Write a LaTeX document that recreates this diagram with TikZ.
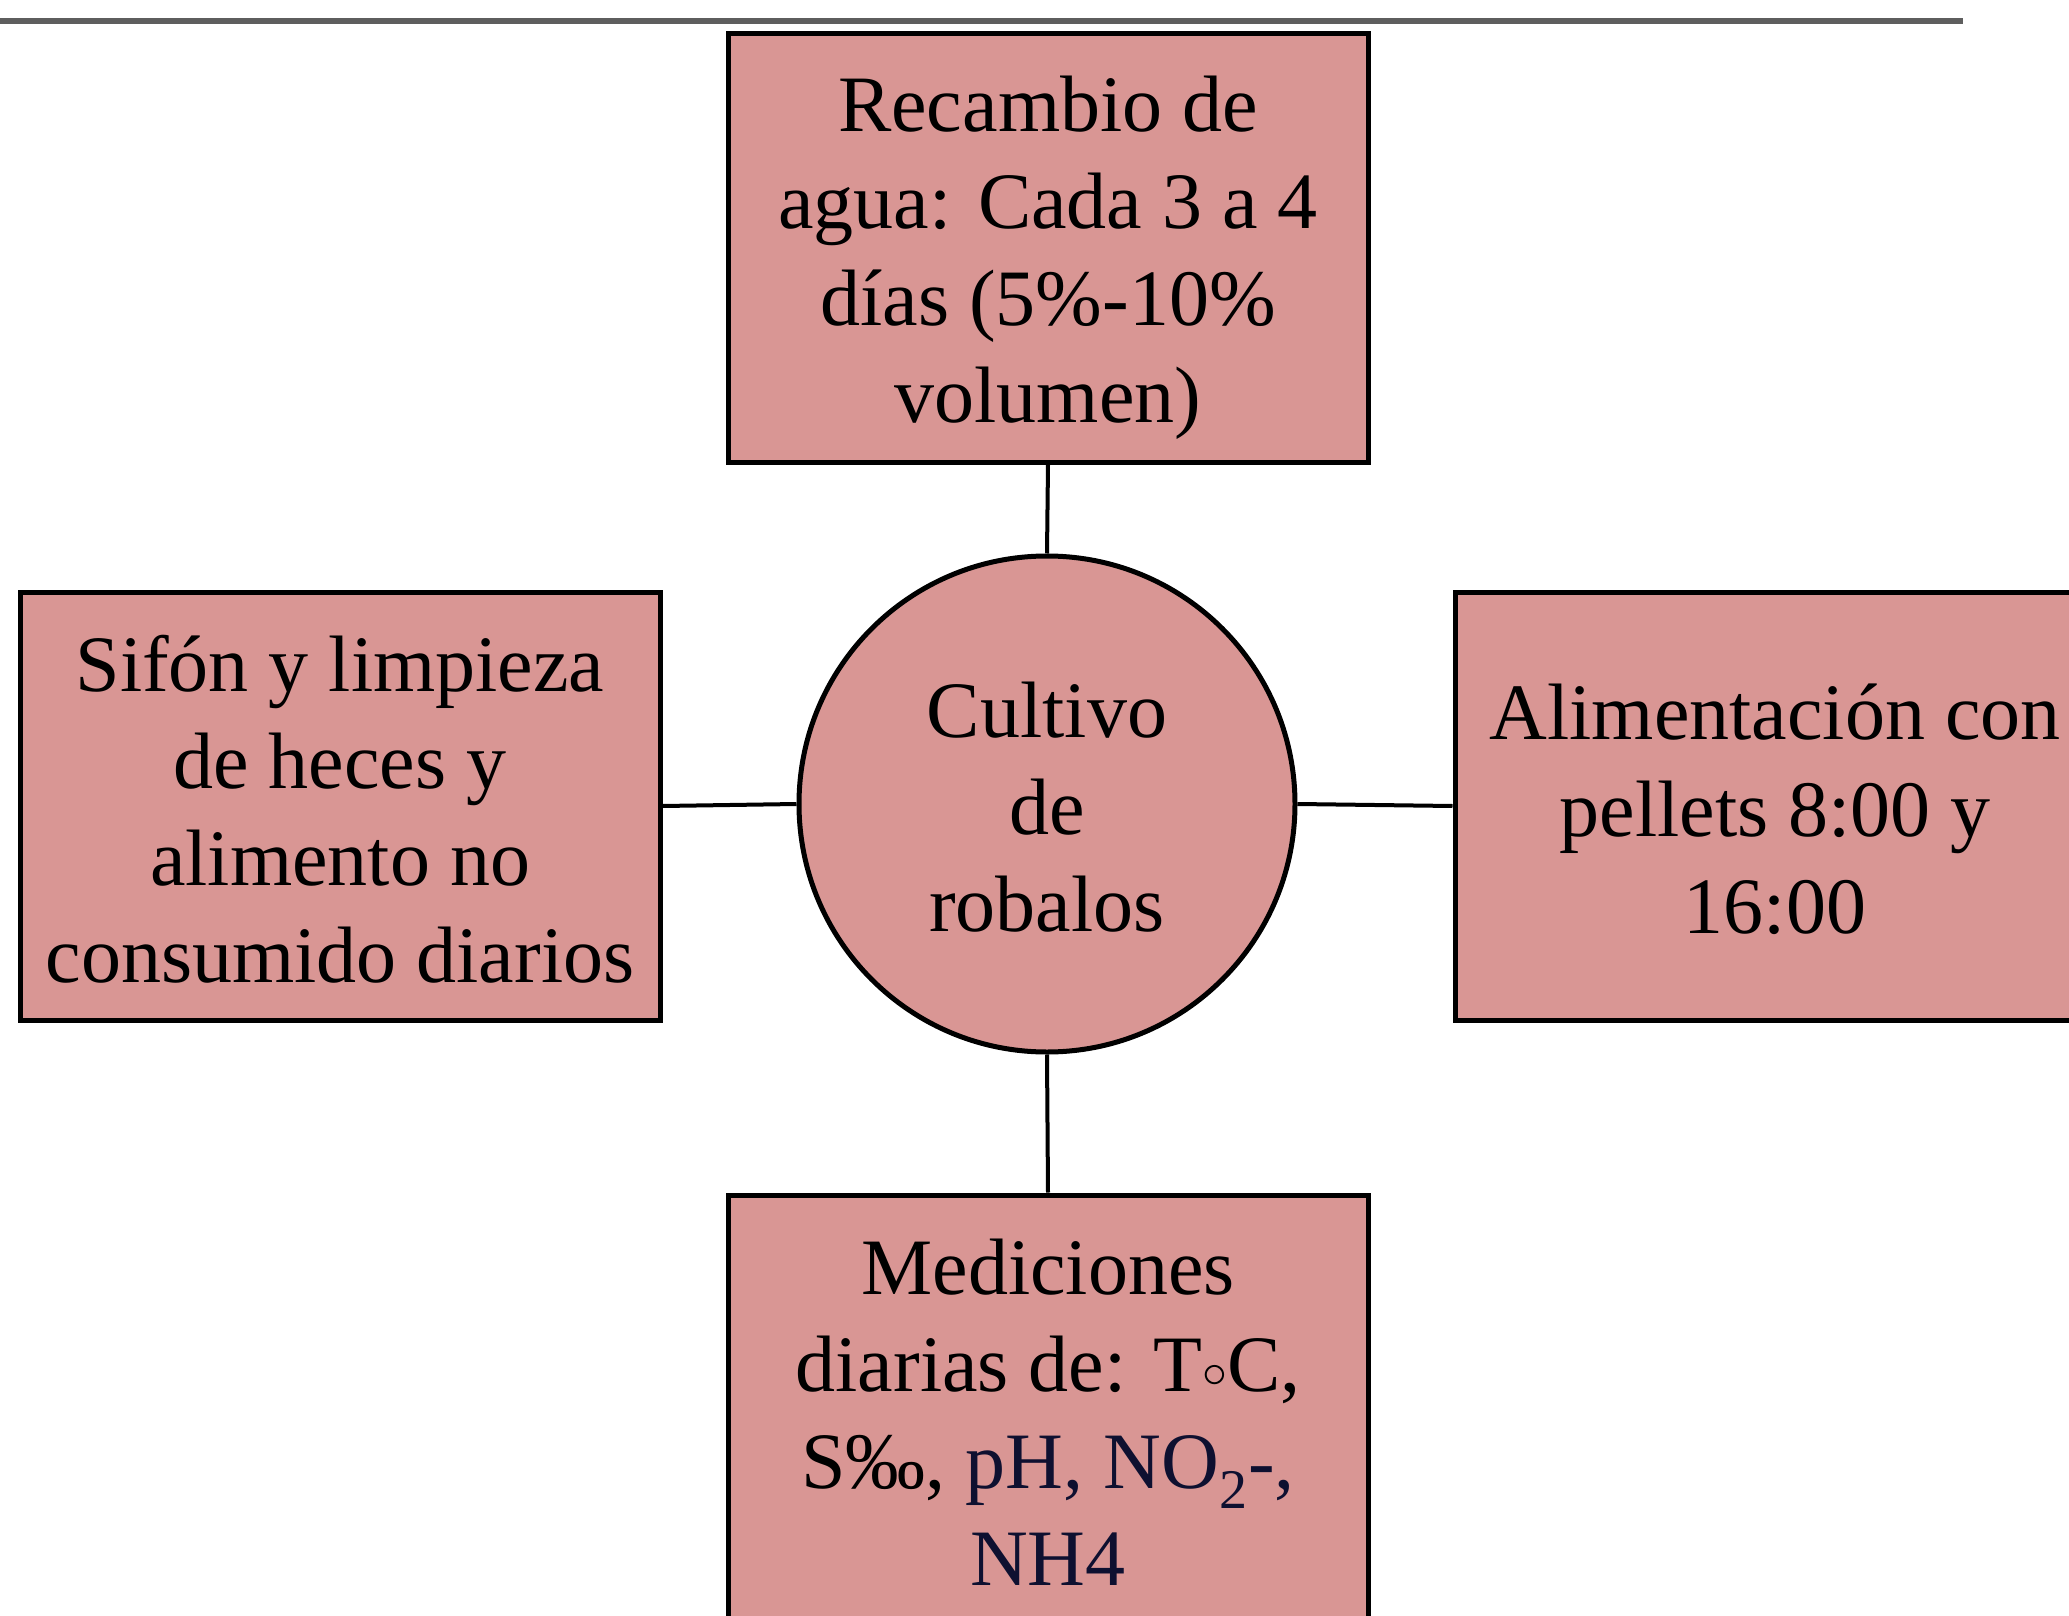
\documentclass[tikz,border=0pt]{standalone}
\usepackage{fontspec}
\setmainfont{Liberation Serif}
\definecolor{boxfill}{HTML}{D99694}
\definecolor{rulegray}{HTML}{5E5E5E}
\definecolor{navy}{HTML}{0E1030}
\newcommand{\firstlift}[1]{\rule{0pt}{#1}}
\begin{document}
\begin{tikzpicture}[x=0.5pt,y=-0.5pt,
  txt/.style={font=\fontsize{40pt}{48.5pt}\selectfont, align=center, text=black},
  infobox/.style={txt, draw=black, line width=2.5pt, fill=boxfill, rectangle,
    minimum width=320pt, minimum height=214pt, inner sep=0pt},
  hub/.style={txt, draw=black, line width=2.5pt, fill=boxfill, circle,
    minimum size=248pt, inner sep=0pt},
  link/.style={draw=black, line width=2pt}]
\useasboundingbox (0,0) rectangle (2069,1616);
\clip (0,0) rectangle (2069,1616);
\draw[rulegray, line width=3pt] (0,21) -- (1963,21);
\node[hub] (c) at (1047,804) {\firstlift{31.3pt}Cultivo\\de\\robalos};
\node[infobox] (top) at (1048,248) {\firstlift{37.3pt}Recambio de\\agua: Cada 3 a 4\\días (5\%-10\%\\volumen)};
\node[infobox] (left) at (340,806) {\firstlift{31.3pt}Sifón y limpieza\\de heces y\\alimento no\\consumido diarios};
\node[infobox] (right) at (1775,806) {\firstlift{31.3pt}Alimentación con\\pellets 8:00 y\\16:00};
\node[infobox] (bot) at (1048,1409) {\firstlift{31.3pt}Mediciones\\diarias de: T\raisebox{0.06em}{$\circ$}C,\\S‰, {\color{navy}pH, NO\textsubscript{2}-,}\\{\color{navy}NH4}};
\draw[link] (top.south) -- (c.north);
\draw[link] (left.east) -- (c.west);
\draw[link] (c.east) -- (right.west);
\draw[link] (c.south) -- (bot.north);
\end{tikzpicture}
\end{document}
